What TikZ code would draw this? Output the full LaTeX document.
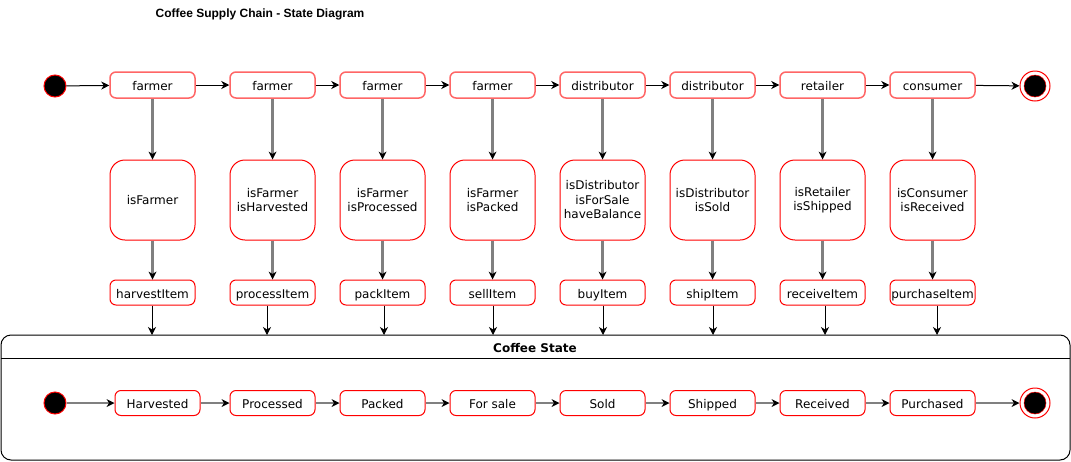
\documentclass[tikz,border=0pt]{standalone}
\usepackage{fontspec}
\setmainfont{DejaVu Sans}
\newfontfamily\titlefont{Liberation Sans}
\usetikzlibrary{arrows.meta}
\definecolor{boxred}{RGB}{255,0,0}
\definecolor{topred}{RGB}{255,102,102}
\definecolor{linegray}{RGB}{128,128,128}
\begin{document}
\begin{tikzpicture}[x=1pt,y=-1pt,
  font=\fontsize{12}{14.5}\selectfont,
  blackline/.style={draw=black, line width=1pt, -{Stealth[length=8pt,width=8pt,inset=2.5pt]}},
  grayline/.style={draw=linegray, line width=2.2pt, -{Stealth[length=8pt,width=8pt,inset=2.5pt,line width=0pt,color=black]}},
  onetext/.style={text height=12pt, text depth=0.5pt},
  rolebox/.style={draw=topred, line width=1.5pt, rounded corners=6pt, minimum width=85pt, minimum height=26pt, inner sep=0pt, fill=white, onetext},
  condbox/.style={draw=boxred, line width=1pt, rounded corners=15pt, minimum width=85pt, minimum height=80pt, align=center, inner sep=0pt, fill=white},
  actbox/.style={draw=boxred, line width=1pt, rounded corners=6pt, minimum width=85pt, minimum height=25pt, inner sep=0pt, fill=white, onetext},
  startdot/.style={circle, draw=boxred, fill=black, line width=1pt, minimum size=22pt, inner sep=0pt},
  endring/.style={circle, draw=boxred, fill=white, line width=1pt, minimum size=30pt, inner sep=0pt},
  enddot/.style={circle, draw=boxred, fill=black, line width=0.5pt, minimum size=22pt, inner sep=0pt},
  ]
\useasboundingbox (0,0) rectangle (1071,461);
\fill[white] (0,0) rectangle (1071,461);

% title
\node[font=\titlefont\bfseries\fontsize{12}{14}\selectfont, onetext] (title) at (260,12) {Coffee Supply Chain - State Diagram};

% container
\node[draw=black, line width=1pt, rounded corners=10pt, minimum width=1069pt, minimum height=125pt, inner sep=0pt] (container) at (535.5,397.5) {};
\coordinate (hl) at (1,358);
\coordinate (hr) at (1070,358);
\draw[line width=1pt] (hl) -- (hr);
\node[font=\bfseries\fontsize{12}{14}\selectfont, onetext] (cstate) at (535,347) {Coffee State};

% start / end top
\node[startdot] (start1) at (55,86) {};
\node[endring] (end1) at (1035,86) {};
\node[enddot] (end1d) at (1035,86) {};
% start / end bottom
\node[startdot] (start2) at (55,403) {};
\node[endring] (end2) at (1035,403) {};
\node[enddot] (end2d) at (1035,403) {};

\foreach \x/\sx/\tx/\r/\c/\a/\s [count=\i] in {
  152.5/157.5/152/farmer/{isFarmer}/harvestItem/Harvested,
  272.5/272.5/267/farmer/{isFarmer\\isHarvested}/processItem/Processed,
  382.5/382.5/384/farmer/{isFarmer\\isProcessed}/packItem/Packed,
  492.5/492.5/493/farmer/{isFarmer\\isPacked}/sellItem/For sale,
  602.5/602.5/603/distributor/{isDistributor\\isForSale\\haveBalance}/buyItem/Sold,
  712.5/712.5/713/distributor/{isDistributor\\isSold}/shipItem/Shipped,
  822.5/822.5/825/retailer/{isRetailer\\isShipped}/receiveItem/Received,
  932.5/932.5/937/consumer/{isConsumer\\isReceived}/purchaseItem/Purchased}{
  \node[rolebox] (r\i) at (\x,85) {\r};
  \node[condbox] (c\i) at (\x,200) {\c};
  \node[actbox] (a\i) at (\x,292.5) {\a};
  \node[actbox] (s\i) at (\sx,403) {\s};
  \coordinate (t\i) at (\tx,335);
  \draw[grayline] (r\i) -- (c\i);
  \draw[grayline] (c\i) -- (a\i);
  \draw[blackline] (a\i.south -| t\i) -- (t\i);
}

% top row chain
\draw[blackline] (start1) -- (r1);
\foreach \i [evaluate=\i as \j using int(\i+1)] in {1,...,7}{
  \draw[blackline] (r\i) -- (r\j);
  \draw[grayline] (s\i) -- (s\j);
}
\draw[blackline] (r8) -- (end1);
\draw[grayline] (start2) -- (s1);
\draw[grayline] (s8) -- (end2);
\end{tikzpicture}
\end{document}
